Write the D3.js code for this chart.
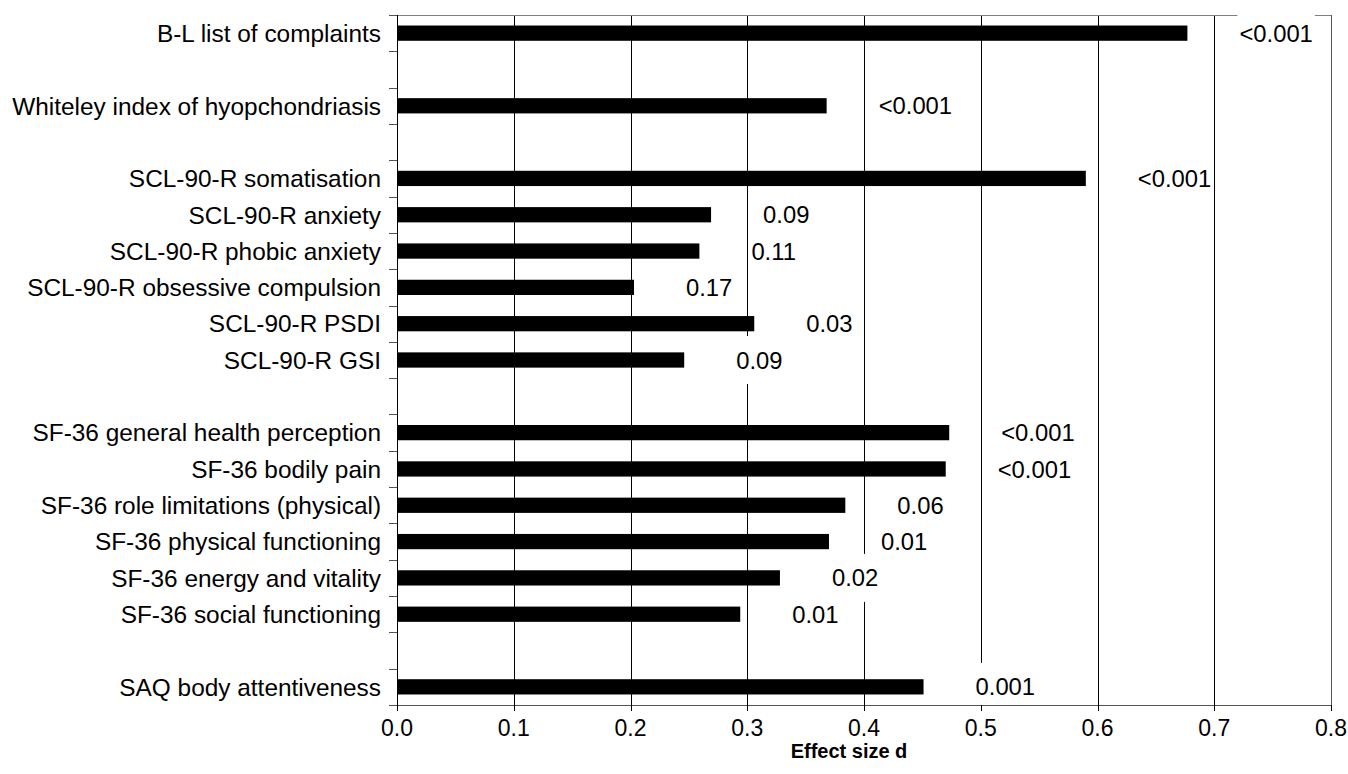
<!DOCTYPE html>
<html>
<head>
<meta charset="utf-8">
<script src="https://cdn.jsdelivr.net/npm/d3@7"></script>
<style>
  html, body { margin: 0; padding: 0; background: #fff; }
  svg { display: block; font-family: "Liberation Sans", Arial, sans-serif; }
</style>
</head>
<body>
<svg id="chart" width="1348" height="774"></svg>
<script>
// Outcome measures (empty strings are spacer rows between instrument groups)
const categories = [
  "B-L list of complaints",
  "",
  "Whiteley index of hyopchondriasis",
  "",
  "SCL-90-R somatisation",
  "SCL-90-R anxiety",
  "SCL-90-R phobic anxiety",
  "SCL-90-R obsessive compulsion",
  "SCL-90-R PSDI",
  "SCL-90-R GSI",
  "",
  "SF-36 general health perception",
  "SF-36 bodily pain",
  "SF-36 role limitations (physical)",
  "SF-36 physical functioning",
  "SF-36 energy and vitality",
  "SF-36 social functioning",
  "",
  "SAQ body attentiveness"
];

// Effect size d per measure
const effectSizes = [
  0.677, null, 0.368, null,
  0.590, 0.269, 0.259, 0.203, 0.306, 0.246, null,
  0.473, 0.470, 0.384, 0.370, 0.328, 0.294, null,
  0.451
];

// p-values printed beside each bar
const pValues = [
  "<0.001", "", "<0.001", "",
  "<0.001", "0.09", "0.11", "0.17", "0.03", "0.09", "",
  "<0.001", "<0.001", "0.06", "0.01", "0.02", "0.01", "",
  "0.001"
];

const xTicks = [0, 0.1, 0.2, 0.3, 0.4, 0.5, 0.6, 0.7, 0.8];
const xTitle = "Effect size d";

const svg = d3.select("#chart");
const plotLeft = 397, plotRight = 1331, plotTop = 15, plotBottom = 705;

const x = d3.scaleLinear().domain([0, 0.8]).range([plotLeft, plotRight]);
const y = d3.scaleBand().domain(d3.range(categories.length)).range([plotTop, plotBottom]).padding(0);
const barH = y.bandwidth() * 0.42;
const crisp = v => Math.round(v) + 0.5;

// Vertical gridlines
svg.append("g").selectAll("line").data(xTicks.filter(t => t > 0)).join("line")
  .attr("x1", d => crisp(x(d))).attr("x2", d => crisp(x(d)))
  .attr("y1", plotTop).attr("y2", plotBottom)
  .attr("stroke", "#000").attr("stroke-width", 1);

// Top frame line
svg.append("line")
  .attr("x1", plotLeft - 8).attr("x2", plotRight + 0.5)
  .attr("y1", crisp(plotTop)).attr("y2", crisp(plotTop))
  .attr("stroke", "#808080");

const rows = categories.map((c, i) => ({ c, v: effectSizes[i], p: pValues[i], i }))
  .filter(d => d.v != null);

// Value labels with white backing boxes that mask the gridlines
const lab = svg.append("g").selectAll("g").data(rows).join("g")
  .attr("transform", d => `translate(${x(d.v) + 52},${y(d.i) + y.bandwidth() / 2})`);
lab.append("rect").attr("fill", "#fff");
lab.append("text")
  .attr("font-size", 23.8)
  .attr("dy", "0.36em")
  .attr("fill", "#000")
  .text(d => d.p);
lab.each(function () {
  const g = d3.select(this);
  const bb = g.select("text").node().getBBox();
  g.select("rect").attr("x", bb.x - 2).attr("width", bb.width + 4).attr("y", -24).attr("height", 48);
});

// Bars
svg.append("g").selectAll("rect").data(rows).join("rect")
  .attr("x", x(0))
  .attr("y", d => y(d.i) + (y.bandwidth() - barH) / 2)
  .attr("width", d => x(d.v) - x(0))
  .attr("height", barH)
  .attr("fill", "#000");

// Y axis: line plus ticks on row boundaries
const yAxis = svg.append("g");
yAxis.append("line")
  .attr("x1", crisp(plotLeft)).attr("x2", crisp(plotLeft))
  .attr("y1", plotTop).attr("y2", plotBottom + 0.5)
  .attr("stroke", "#000");
yAxis.selectAll("line.tick").data(d3.range(categories.length + 1)).join("line")
  .attr("class", "tick")
  .attr("x1", plotLeft - 8).attr("x2", plotLeft)
  .attr("y1", i => crisp(plotTop + i * y.step())).attr("y2", i => crisp(plotTop + i * y.step()))
  .attr("stroke", "#555");
yAxis.selectAll("text").data(categories.map((c, i) => ({ c, i })).filter(d => d.c)).join("text")
  .attr("x", plotLeft - 16)
  .attr("y", d => y(d.i) + y.bandwidth() / 2)
  .attr("dy", "0.36em")
  .attr("text-anchor", "end")
  .attr("font-size", 24.4)
  .attr("fill", "#000")
  .text(d => d.c);

// Right frame line
svg.append("line")
  .attr("x1", crisp(plotRight)).attr("x2", crisp(plotRight))
  .attr("y1", plotTop).attr("y2", plotBottom)
  .attr("stroke", "#555");

// X axis
const xAxis = svg.append("g");
xAxis.append("line")
  .attr("x1", plotLeft - 8).attr("x2", plotRight + 1)
  .attr("y1", crisp(plotBottom)).attr("y2", crisp(plotBottom))
  .attr("stroke", "#555");
xAxis.selectAll("line.tick").data(xTicks).join("line")
  .attr("class", "tick")
  .attr("x1", d => crisp(x(d))).attr("x2", d => crisp(x(d)))
  .attr("y1", plotBottom).attr("y2", plotBottom + 6)
  .attr("stroke", "#000");
xAxis.selectAll("text").data(xTicks).join("text")
  .attr("x", d => x(d))
  .attr("y", plotBottom + 23)
  .attr("dy", "0.36em")
  .attr("text-anchor", "middle")
  .attr("font-size", 23)
  .attr("fill", "#000")
  .text(d => d3.format(".1f")(d));

svg.append("text")
  .attr("x", x(0.4) - 15)
  .attr("y", 751)
  .attr("dy", "0.36em")
  .attr("text-anchor", "middle")
  .attr("font-size", 20)
  .attr("font-weight", "bold")
  .attr("fill", "#000")
  .text(xTitle);
</script>
</body>
</html>
